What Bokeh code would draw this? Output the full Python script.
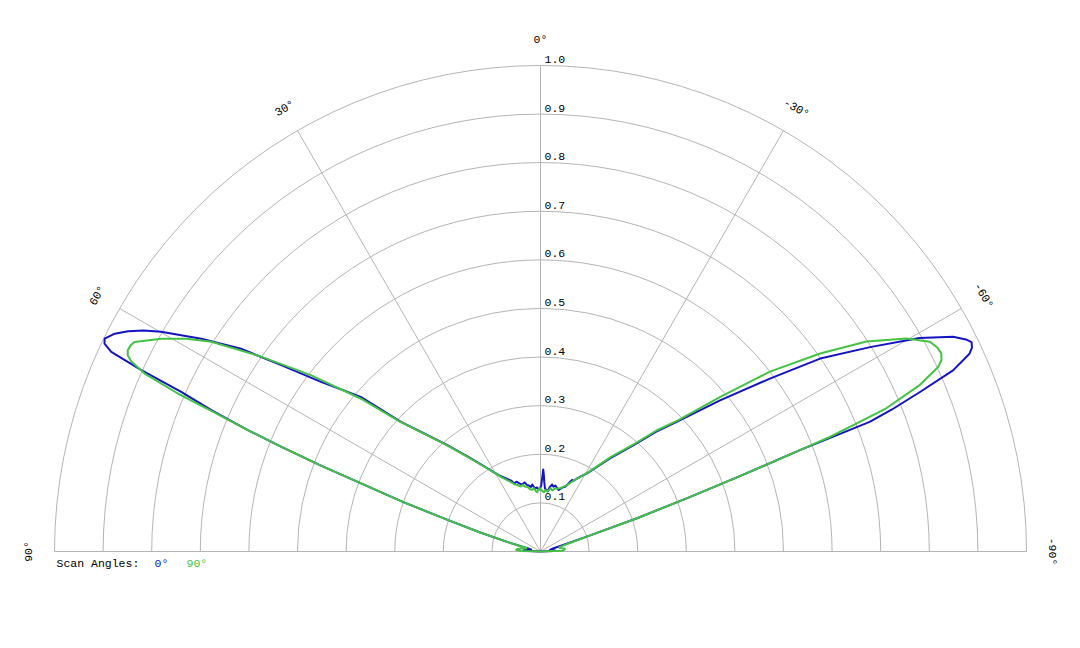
import numpy as np
from bokeh.plotting import figure
from bokeh.models import ColumnDataSource, Range1d
from bokeh.core.properties import value
from bokeh.embed import file_html
from bokeh.resources import INLINE

# ---------------- data ----------------
ring_values = [0.1, 0.2, 0.3, 0.4, 0.5, 0.6, 0.7, 0.8, 0.9, 1.0]
ring_labels = ["0.1", "0.2", "0.3", "0.4", "0.5", "0.6", "0.7", "0.8", "0.9", "1.0"]
spoke_angles = [90, 60, 30, 0, -30, -60, -90]
angle_labels = ["90°", "60°", "30°", "0°", "-30°", "-60°", "-90°"]

series_names = ["0°", "90°"]

blue_theta = [90, 88, 86, 84, 81, 78, 76, 74, 72.5, 71.2, 70.2, 69.2, 68.6, 68.0, 67.47, 66.76,
              66.04, 65.57, 65.06, 64.5, 63.97, 62.9, 61.9, 60.9, 59.93, 57.9, 55.9, 54.3, 52.3,
              49.3, 47.1, 44.6, 41.2, 36.9, 33.5, 30.3, 28.5, 25.8, 24.6, 22.5, 21.1, 19, 17, 15.2,
              13, 11.5, 10, 8.5, 7, 5.8, 4.5, 3, 1.6, 0.5, -0.6, -1.3, -1.9, -2.5, -3, -4, -4.8,
              -6, -6.9, -8, -9.9, -11.3, -12.8, -14.5, -16.5, -18.5, -21, -22.5, -23.8, -25, -26.6,
              -29.5, -30.8, -36.8, -41.2, -43.9, -46.4, -49.9, -53, -55.4, -58.2, -60.6, -62.5,
              -63.5, -64.1, -64.7, -65.25, -66.3, -67.2, -68.0, -68.5, -68.65, -69.3, -70, -71,
              -72.2, -74, -77, -80, -83, -86, -88, -90]
blue_r = [0.0, 0.025, 0.035, 0.03, 0.02, 0.02, 0.028, 0.07, 0.13, 0.202, 0.30, 0.395, 0.49, 0.576,
          0.652, 0.737, 0.809, 0.902, 0.974, 0.994, 0.998, 0.984, 0.962, 0.935, 0.902, 0.824, 0.744,
          0.657, 0.571, 0.488, 0.392, 0.341, 0.291, 0.240, 0.21, 0.188, 0.178, 0.168, 0.164, 0.158,
          0.150, 0.152, 0.146, 0.143, 0.146, 0.140, 0.138, 0.134, 0.139, 0.133, 0.130, 0.132, 0.127,
          0.130, 0.135, 0.151, 0.169, 0.158, 0.145, 0.131, 0.128, 0.126, 0.125, 0.133, 0.140, 0.136,
          0.139, 0.135, 0.132, 0.138, 0.143, 0.152, 0.161, 0.160, 0.168, 0.181, 0.187, 0.240, 0.291,
          0.341, 0.387, 0.483, 0.591, 0.699, 0.798, 0.895, 0.957, 0.978, 0.986, 0.982, 0.972, 0.927,
          0.847, 0.78, 0.728, 0.573, 0.44, 0.32, 0.21, 0.10, 0.05, 0.025, 0.02, 0.025, 0.03, 0.025, 0.0]

green_theta = [90, 88.5, 86.5, 84, 81, 78, 76, 74, 72.5, 71.2, 70.2, 69.2, 68.6, 68.0, 67.47, 66.9,
               66.46, 65.8, 65.1, 64.6, 64.0, 63.3, 62.7, 60.7, 59.0, 57.5, 55.1, 52.5, 49.6, 47.3,
               44.8, 41.4, 37.1, 33.6, 30.3, 28, 25.5, 23, 21, 19.3, 17, 15, 13.2, 11.6, 9.5, 7.7, 6,
               4.5, 3.2, 1.8, 0.3, -1.5, -3.2, -4.8, -6.5, -9, -11, -13, -14.8, -17, -19, -21.8, -24,
               -26, -28, -29.5, -31, -36.6, -41.2, -43.8, -46.4, -49.3, -51.9, -54.7, -57.2, -59.8,
               -61.7, -62.8, -63.7, -64.5, -65.1, -66.3, -67.5, -68.0, -68.4, -68.65, -69.3, -70, -71,
               -72.2, -74, -77, -80, -83, -85.5, -88, -90]
green_r = [0.0, 0.04, 0.05, 0.048, 0.04, 0.03, 0.03, 0.07, 0.13, 0.202, 0.30, 0.395, 0.49, 0.576,
           0.652, 0.73, 0.814, 0.893, 0.928, 0.940, 0.945, 0.944, 0.940, 0.895, 0.85, 0.803, 0.701,
           0.596, 0.485, 0.395, 0.343, 0.292, 0.240, 0.21, 0.188, 0.174, 0.164, 0.155, 0.148, 0.145,
           0.140, 0.142, 0.137, 0.136, 0.130, 0.128, 0.131, 0.125, 0.122, 0.128, 0.130, 0.125, 0.122,
           0.127, 0.124, 0.132, 0.128, 0.133, 0.134, 0.136, 0.140, 0.147, 0.156, 0.165, 0.173, 0.181,
           0.19, 0.242, 0.295, 0.345, 0.392, 0.488, 0.600, 0.705, 0.798, 0.871, 0.910, 0.918, 0.920,
           0.914, 0.902, 0.852, 0.770, 0.694, 0.64, 0.573, 0.44, 0.32, 0.21, 0.10, 0.06, 0.04, 0.04,
           0.05, 0.05, 0.045, 0.0]

# ---------------- styles ----------------
BLUE = "#1414c4"
GREEN = "#44c244"
GRID = "#b4b4b4"
TEXT = "#000000"
FONT = value("Liberation Mono")
FS = "11.5px"


def to_xy(theta_deg, r):
    t = np.radians(np.asarray(theta_deg, dtype=float))
    r = np.asarray(r, dtype=float)
    return -r * np.sin(t), r * np.cos(t)


W, H = 1064, 632
scale = 486.0
cx_px, cy_px = 540.0, 551.0

p = figure(width=W, height=H, output_backend="svg", toolbar_location=None,
           x_axis_type=None, y_axis_type=None, min_border=0,
           x_range=Range1d(-cx_px / scale, (W - cx_px) / scale),
           y_range=Range1d(-(H - cy_px) / scale, cy_px / scale))
p.outline_line_color = None
p.grid.visible = False
p.background_fill_color = "white"

# rings
p.arc(x=0, y=0, radius=ring_values, start_angle=0, end_angle=np.pi,
      line_color=GRID, line_width=1)

# spokes
sx, sy = to_xy(spoke_angles, [1.0] * len(spoke_angles))
p.segment(x0=[0] * len(spoke_angles), y0=[0] * len(spoke_angles), x1=sx, y1=sy,
          line_color=GRID, line_width=1)

# curves
bx, by = to_xy(blue_theta, blue_r)
gx, gy = to_xy(green_theta, green_r)
p.line(bx, by, line_color=BLUE, line_width=2, line_join="round")
p.line(gx, gy, line_color=GREEN, line_width=2, line_join="round")

# radial labels
p.text(x=[0] * len(ring_values), y=ring_values, text=ring_labels,
       x_offset=4, y_offset=-6, text_align="left", text_baseline="middle",
       text_font=FONT, text_font_size=FS, text_color=TEXT)

# angle labels
lx, ly = to_xy(spoke_angles, [1.053] * len(spoke_angles))
p.text(x=lx, y=ly, text=angle_labels, angle=list(np.radians(spoke_angles)),
       text_align="center", text_baseline="middle",
       text_font=FONT, text_font_size=FS, text_color=TEXT)

# legend line
p.text(x=[-1.0], y=[0.0], text=["Scan Angles:"], x_offset=2, y_offset=12,
       text_align="left", text_baseline="middle",
       text_font=FONT, text_font_size=FS, text_color=TEXT)
p.text(x=[-1.0], y=[0.0], text=[series_names[0]], x_offset=100, y_offset=12,
       text_align="left", text_baseline="middle",
       text_font=FONT, text_font_size=FS, text_color=BLUE)
p.text(x=[-1.0], y=[0.0], text=[series_names[1]], x_offset=132, y_offset=12,
       text_align="left", text_baseline="middle",
       text_font=FONT, text_font_size=FS, text_color=GREEN)

open("out.html", "w").write(file_html(p, INLINE))
